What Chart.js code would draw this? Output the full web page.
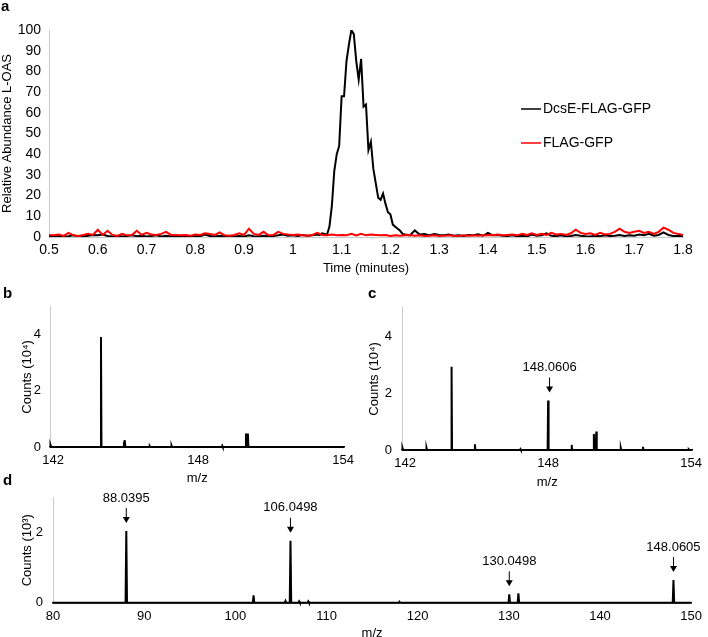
<!DOCTYPE html>
<html lang="en">
<head>
<meta charset="UTF-8">
<title>L-OAS chromatogram and spectra</title>
<script src="https://cdn.jsdelivr.net/npm/chart.js"></script>
<style>
  body { margin: 0; background: #fff; }
  .figure { position: relative; width: 708px; height: 637px; overflow: hidden; background: #fff; }
  .figure canvas { position: absolute; }
  #chartA { left: 0px; top: 0px; }
  #chartB { left: 0px; top: 290px; }
  #chartC { left: 360px; top: 290px; }
  #chartD { left: 0px; top: 480px; }
  .panel-label { position: absolute; font-family: 'Liberation Sans', Arial, sans-serif; font-weight: bold; font-size: 15px; line-height: 1; color: #000; }
</style>
</head>
<body>
<div class="figure">
  <canvas id="chartA" width="708" height="285"></canvas>
  <canvas id="chartB" width="360" height="200"></canvas>
  <canvas id="chartC" width="348" height="200"></canvas>
  <canvas id="chartD" width="708" height="166"></canvas>
  <div class="panel-label" style="left:1px;top:-2px">a</div>
  <div class="panel-label" style="left:3px;top:285px">b</div>
  <div class="panel-label" style="left:368px;top:285px">c</div>
  <div class="panel-label" style="left:3px;top:472px">d</div>
</div>

<script>
// ---- panel a: extracted ion chromatogram ----
const timeMin = [
  0.50, 0.51, 0.52, 0.53, 0.54, 0.55, 0.56, 0.57, 0.58, 0.59,
  0.60, 0.61, 0.62, 0.63, 0.64, 0.65, 0.66, 0.67, 0.68, 0.69,
  0.70, 0.71, 0.72, 0.73, 0.74, 0.75, 0.76, 0.77, 0.78, 0.79,
  0.80, 0.81, 0.82, 0.83, 0.84, 0.85, 0.86, 0.87, 0.88, 0.89,
  0.90, 0.91, 0.92, 0.93, 0.94, 0.95, 0.96, 0.97, 0.98, 0.99,
  1.00, 1.01, 1.02, 1.03, 1.04, 1.05, 1.06, 1.07, 1.08, 1.09,
  1.10, 1.11, 1.12, 1.13, 1.14, 1.15, 1.16, 1.17, 1.18, 1.19,
  1.20, 1.21, 1.22, 1.23, 1.24, 1.25, 1.26, 1.27, 1.28, 1.29,
  1.30, 1.31, 1.32, 1.33, 1.34, 1.35, 1.36, 1.37, 1.38, 1.39,
  1.40, 1.41, 1.42, 1.43, 1.44, 1.45, 1.46, 1.47, 1.48, 1.49,
  1.50, 1.51, 1.52, 1.53, 1.54, 1.55, 1.56, 1.57, 1.58, 1.59,
  1.60, 1.61, 1.62, 1.63, 1.64, 1.65, 1.66, 1.67, 1.68, 1.69,
  1.70, 1.71, 1.72, 1.73, 1.74, 1.75, 1.76, 1.77, 1.78, 1.79,
  1.80
];
const dcseAbund = [
  0.5, 0.3, 0.6, 0.2, 0.4, 0.8, 0.3, 0.2, 0.6, 1.0,
  0.8, 1.2, 0.5, 0.3, 0.6, 0.2, 0.5, 0.8, 0.4, 0.6,
  0.3, 0.5, 0.8, 0.3, 0.6, 0.2, 0.4, 0.3, 0.5, 0.2,
  0.6, 0.4, 1.2, 0.5, 0.3, 0.6, 0.2, 0.4, 0.3, 0.5,
  0.3, 0.8, 0.4, 0.3, 0.6, 0.4, 0.5, 0.8, 1.2, 0.6,
  0.8, 0.5, 1.0, 0.6, 0.8, 1.2, 1.8, 1.0, 15, 40,
  68, 85, 100, 85, 86, 64, 46, 26, 18, 16,
  11, 5, 3, 1.2, 0.8, 3.2, 1.2, 1.5, 0.8, 1.4,
  1.0, 0.8, 1.2, 0.6, 0.8, 0.5, 1.0, 0.8, 1.3, 0.6,
  2.0, 0.8, 1.0, 0.6, 0.5, 0.8, 0.4, 0.6, 0.3, 1.2,
  0.6, 0.8, 1.8, 0.6, 0.4, 0.8, 0.3, 0.5, 1.0, 0.6,
  0.4, 0.3, 0.6, 0.4, 0.8, 0.5, 0.6, 1.0, 0.5, 0.8,
  0.6, 1.2, 0.8, 1.5, 0.6, 1.0, 2.2, 1.0, 0.5, 0.6,
  0.4
];
// extra scans across the DcsE peak
const peakTimes = [1.055, 1.065, 1.075, 1.085, 1.095, 1.105, 1.115, 1.125, 1.135,
                   1.145, 1.155, 1.165, 1.175, 1.185, 1.195, 1.205, 1.215, 1.225];
const peakAbund = [1.0, 1.5, 5, 32, 44, 68, 93, 98, 76,
                   63, 42, 33, 19, 21, 12, 6, 4, 1.5];
const flagAbund = [
  1.0, 0.8, 1.2, 0.5, 2.0, 0.8, 0.5, 1.0, 1.5, 1.0,
  3.5, 1.0, 3.0, 1.0, 0.5, 1.5, 0.8, 1.0, 3.0, 1.0,
  2.0, 1.2, 1.0, 1.5, 2.5, 1.0, 1.0, 0.8, 1.0, 0.6,
  1.2, 1.0, 1.8, 1.5, 1.0, 2.2, 0.8, 0.6, 1.0, 1.8,
  1.0, 4.0, 1.5, 1.0, 2.5, 0.8, 1.0, 2.5, 1.5, 1.2,
  1.0, 1.2, 0.8, 0.6, 1.0, 2.0, 1.0, 0.8, 1.2, 0.8,
  1.0, 0.8, 1.5, 0.8, 1.5, 0.8, 1.2, 1.0, 0.8, 1.0,
  0.5, 0.8, 0.6, 0.8, 1.0, 0.6, 0.8, 0.5, 0.6, 0.8,
  0.5, 0.6, 0.8, 0.6, 0.5, 0.8, 0.6, 0.8, 0.6, 0.8,
  1.0, 0.8, 1.2, 0.8, 1.0, 1.2, 0.8, 1.5, 1.0, 1.8,
  1.0, 1.5, 1.0, 2.0, 1.2, 1.5, 1.0, 1.8, 3.5, 2.0,
  1.5, 1.8, 1.0, 2.0, 1.2, 1.5, 2.5, 4.0, 2.5, 2.0,
  2.5, 3.0, 2.0, 2.5, 1.5, 2.5, 4.5, 3.5, 2.0, 1.5,
  1.0
];
const timeTicks = [0.5, 0.6, 0.7, 0.8, 0.9, 1.0, 1.1, 1.2, 1.3, 1.4, 1.5, 1.6, 1.7, 1.8];
const abundTicks = [0, 10, 20, 30, 40, 50, 60, 70, 80, 90, 100];

// ---- panels b, c, d: mass spectra ----
const bMz     = [141.9, 143.98, 144.93, 144.97, 146.0, 146.9, 149.0, 149.98, 150.06];
const bCounts = [0.08, 3.92, 0.2, 0.25, 0.03, 0.05, 0.04, 0.48, 0.48];
const cMz     = [141.9, 142.9, 143.95, 144.93, 146.84, 148.0, 148.99, 149.92, 150.02, 151.05, 151.98, 153.9];
const cCounts = [0.08, 0.07, 2.93, 0.2, 0.03, 1.74, 0.18, 0.56, 0.65, 0.07, 0.11, 0.02];
const dMz     = [88.04, 102.0, 105.5, 106.05, 107.0, 108.0, 118.0, 130.05, 131.05, 148.06];
const dCounts = [2.05, 0.21, 0.05, 1.77, 0.04, 0.04, 0.03, 0.24, 0.27, 0.65];

const cNoteMz = [148.0606];
const dNoteMz = [88.0395, 106.0498, 130.0498, 148.0605];

const mzTicksBC = [142, 148, 154];
const mzTicksD  = [80, 90, 100, 110, 120, 130, 140, 150];
const countTicksBC = [0, 2, 4];
const countTicksD  = [0, 2];

const FONT = "'Liberation Sans', Arial, Helvetica, sans-serif";
Chart.defaults.font.family = FONT;
Chart.defaults.color = '#000';
const AXIS_GREY = '#c9c9c9';

function fixedTicks(values) {
    return function(scale) {
        scale.ticks = values.map(v => ({ value: v }));
    };
}

// legend drawn next to the chromatogram, inside the plot
const sideLegend = {
    id: 'sideLegend',
    afterDraw(chart) {
        const ctx = chart.ctx;
        const items = chart.data.datasets.slice().sort((a, b) => b.order - a.order);
        ctx.save();
        ctx.font = '14px ' + FONT;
        ctx.textBaseline = 'middle';
        items.forEach((ds, i) => {
            const y = 109 + i * 34;
            ctx.strokeStyle = ds.borderColor;
            ctx.lineWidth = 1.5;
            ctx.beginPath();
            ctx.moveTo(521, y);
            ctx.lineTo(541, y);
            ctx.stroke();
            ctx.fillStyle = '#000';
            ctx.fillText(ds.label, 543, y);
        });
        ctx.restore();
    }
};

// arrows + m/z labels above peaks
function peakNotes(noteMz, mz, counts) {
    return {
        id: 'peakNotes',
        afterDatasetsDraw(chart) {
            const ctx = chart.ctx;
            const xs = chart.scales.x, ys = chart.scales.y;
            ctx.save();
            ctx.font = '13px ' + FONT;
            ctx.textAlign = 'center';
            ctx.textBaseline = 'middle';
            ctx.fillStyle = '#000';
            ctx.strokeStyle = '#000';
            noteMz.forEach(m => {
                // height of the nearest peak
                let h = 0;
                mz.forEach((v, i) => { if (Math.abs(v - m) < 0.3 && counts[i] > h) h = counts[i]; });
                const px = xs.getPixelForValue(m);
                const top = ys.getPixelForValue(h);
                const tip = top - 8;
                const start = tip - 15;
                ctx.lineWidth = 1;
                ctx.beginPath();
                ctx.moveTo(px, start);
                ctx.lineTo(px, tip - 5);
                ctx.stroke();
                ctx.beginPath();
                ctx.moveTo(px - 3.5, tip - 6);
                ctx.lineTo(px + 3.5, tip - 6);
                ctx.lineTo(px, tip);
                ctx.closePath();
                ctx.fill();
                ctx.fillText(m.toFixed(4), px, start - 10);
            });
            ctx.restore();
        }
    };
}

function profile(mz, counts, min, max, halfWidth) {
    const pts = [{ x: min, y: 0 }];
    mz.forEach((m, i) => {
        pts.push({ x: m - halfWidth, y: 0 }, { x: m, y: counts[i] }, { x: m + halfWidth, y: 0 });
    });
    pts.push({ x: max, y: 0 });
    return pts.sort((a, b) => a.x - b.x);
}

function makeSpectrum(id, cfg) {
    return new Chart(document.getElementById(id), {
        type: 'line',
        data: {
            datasets: [{
                data: profile(cfg.mz, cfg.counts, cfg.xMin, cfg.xMax, cfg.halfWidth),
                borderColor: '#000',
                borderWidth: 2,
                pointRadius: 0,
                tension: 0,
                clip: false
            }]
        },
        options: {
            responsive: false,
            animation: false,
            layout: { padding: cfg.padding },
            plugins: { legend: { display: false }, tooltip: { enabled: false } },
            scales: {
                x: {
                    type: 'linear', min: cfg.xMin, max: cfg.xMax,
                    grid: { display: false, drawTicks: false },
                    border: { display: true, color: '#000', width: 1.5 },
                    afterBuildTicks: fixedTicks(cfg.xTicks),
                    afterFit: s => { s.height = cfg.xHeight; },
                    ticks: { padding: cfg.xTickPad, font: { size: 13 }, maxRotation: 0 },
                    title: { display: true, text: 'm/z', font: { size: 13 }, padding: { top: 0, bottom: cfg.xTitlePad } }
                },
                y: {
                    min: 0, max: cfg.yMax,
                    grid: { display: false, drawTicks: false },
                    border: { color: AXIS_GREY, width: 1 },
                    afterBuildTicks: fixedTicks(cfg.yTicks),
                    afterFit: s => { s.width = cfg.yWidth; },
                    ticks: { padding: cfg.yTickPad, font: { size: 13 } },
                    title: { display: true, text: cfg.yTitle, font: { size: 13 }, padding: { top: cfg.yTitlePad, bottom: 0 } }
                }
            }
        },
        plugins: cfg.notes ? [peakNotes(cfg.notes, cfg.mz, cfg.counts)] : []
    });
}

// ---- build panel a ----
const dcsePts = timeMin.map((t, i) => ({ x: t, y: dcseAbund[i] }))
    .concat(peakTimes.map((t, i) => ({ x: t, y: peakAbund[i] })))
    .sort((a, b) => a.x - b.x);
const flagPts = timeMin.map((t, i) => ({ x: t, y: flagAbund[i] }));

new Chart(document.getElementById('chartA'), {
    type: 'line',
    data: {
        datasets: [
            { label: 'FLAG-GFP', data: flagPts, borderColor: '#ff0000', borderWidth: 2, pointRadius: 0, tension: 0, order: 0 },
            { label: 'DcsE-FLAG-GFP', data: dcsePts, borderColor: '#000000', borderWidth: 2, pointRadius: 0, tension: 0, order: 1 }
        ]
    },
    options: {
        responsive: false,
        animation: false,
        layout: { padding: { top: 30, right: 25, left: 0, bottom: 0 } },
        plugins: { legend: { display: false }, tooltip: { enabled: false } },
        scales: {
            x: {
                type: 'linear', min: 0.5, max: 1.8,
                grid: { display: false, drawTicks: false },
                border: { color: AXIS_GREY, width: 1 },
                afterBuildTicks: fixedTicks(timeTicks),
                afterFit: s => { s.height = 48; },
                ticks: { padding: 5, font: { size: 14 }, maxRotation: 0, callback: v => String(Math.round(v * 10) / 10) },
                title: { display: true, text: 'Time (minutes)', font: { size: 13 }, padding: { top: 0, bottom: 9 } }
            },
            y: {
                min: 0, max: 100,
                grid: { display: false, drawTicks: false },
                border: { color: AXIS_GREY, width: 1 },
                afterBuildTicks: fixedTicks(abundTicks),
                afterFit: s => { s.width = 49; },
                ticks: { padding: 8, font: { size: 14 } },
                title: { display: true, text: 'Relative Abundance L-OAS', font: { size: 13 }, padding: { top: 0, bottom: 0 } }
            }
        }
    },
    plugins: [sideLegend]
});

// ---- build panels b, c, d ----
makeSpectrum('chartB', {
    mz: bMz, counts: bCounts, xMin: 141.87, xMax: 154.05, halfWidth: 0.02,
    yMax: 5, xTicks: mzTicksBC, yTicks: countTicksBC, yTitle: 'Counts (10⁴)',
    padding: { top: 7, right: 13, left: 0, bottom: 0 },
    xHeight: 43, xTickPad: 6, xTitlePad: 4, yWidth: 50, yTickPad: 9, yTitlePad: 20
});
makeSpectrum('chartC', {
    mz: cMz, counts: cCounts, xMin: 141.87, xMax: 154.05, halfWidth: 0.02,
    yMax: 5, xTicks: mzTicksBC, yTicks: countTicksBC, yTitle: 'Counts (10⁴)',
    padding: { top: 6.5, right: 8, left: 0, bottom: 0 },
    xHeight: 40, xTickPad: 6, xTitlePad: 0, yWidth: 42, yTickPad: 10, yTitlePad: 7,
    notes: cNoteMz
});
makeSpectrum('chartD', {
    mz: dMz, counts: dCounts, xMin: 80, xMax: 150, halfWidth: 0.08,
    yMax: 3, xTicks: mzTicksD, yTicks: countTicksD, yTitle: 'Counts (10³)',
    padding: { top: 12.6, right: 16, left: 0, bottom: 0 },
    xHeight: 43.3, xTickPad: 6, xTitlePad: 5, yWidth: 53, yTickPad: 10, yTitlePad: 20,
    notes: dNoteMz
});
</script>
</body>
</html>
